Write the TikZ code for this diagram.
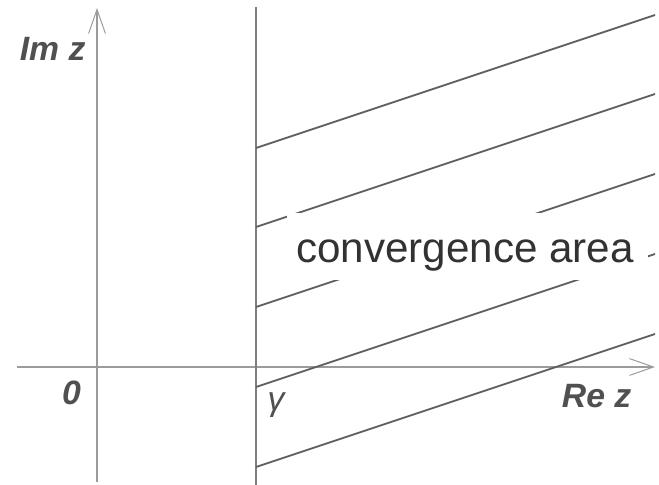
\documentclass[tikz,border=0pt]{standalone}
\usepackage{fontspec}
\setmainfont{Liberation Sans}
\usetikzlibrary{arrows.meta}
\definecolor{axisgray}{RGB}{155,155,155}
\definecolor{linegray}{RGB}{95,95,95}
\definecolor{labelgray}{RGB}{80,80,80}
\definecolor{textgray}{RGB}{50,50,50}

\begin{document}
\begin{tikzpicture}[axis/.style={color=axisgray, line width=1.1pt, -{Straight Barb[length=0.6cm,width=0.42cm,line width=0.7pt]}},
    hatch/.style={color=linegray, line width=1.3pt},
    axlabel/.style={color=labelgray, inner sep=0pt, font=\fontsize{24}{28}\selectfont\bfseries\itshape}]
        \useasboundingbox (-2.425,-2.95) rectangle (14.05,9.175);
        % axes and the line Re z = gamma
        \draw[axis] (-2,0) -- (13.95,0); \draw[axis] (0,-2.875) -- (0,8.975);
        \draw[color=linegray!80, line width=1.2pt] (3.975,-2.95) -- (3.975,9.0);

        % hatching of the half plane
        \draw[hatch] (3.975,5.475) -- (13.95,8.8); \draw[hatch] (3.975,3.5) -- (13.95,6.825);
        \draw[hatch] (3.975,1.5) -- (13.95,4.825); \draw[hatch] (3.975,-0.5) -- (13.95,2.825);
        \draw[hatch] (3.975,-2.5) -- (13.95,0.825);

        \fill[white] (4.75,2.175) rectangle (13.775,3.85);
        \node[anchor=base, inner sep=0pt, color=textgray, font=\fontsize{30}{34}\selectfont] (conv) at (9.2,2.62) {convergence area};

        % labels
        \node[axlabel, anchor=base] (imz) at (-1.11,7.65) {Im z};
        \node[axlabel, anchor=base] (rez) at (12.49,-1.025) {Re z};
        \node[axlabel, anchor=base] (zero) at (-0.64,-0.95) {0};
        \node[anchor=north, inner sep=0pt, color=labelgray, font=\fontsize{24}{28}\selectfont\itshape] (gamma) at (4.475,-0.63) {γ};
\end{tikzpicture}
\end{document}
